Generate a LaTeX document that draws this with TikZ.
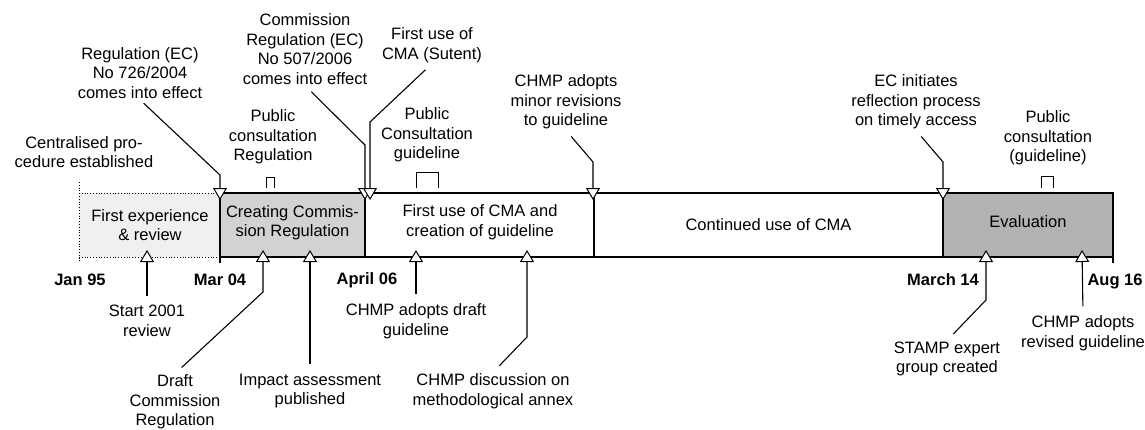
\documentclass[tikz,border=0pt]{standalone}
\usepackage{fontspec}
\setmainfont{Liberation Sans}
\usetikzlibrary{arrows.meta}

\tikzset{
  evt/.style={align=center, inner sep=1pt, font=\fontsize{16.5}{19.5}\selectfont},
  datelbl/.style={inner sep=1pt, font=\fontsize{16.5}{19.5}\selectfont\bfseries},
  phase/.style={draw, line width=1.2pt, minimum height=64pt, align=center, inner sep=0pt,
    font=\fontsize{16.5}{19.5}\selectfont},
  marker/.style={line width=1.1pt, -{Triangle[width=14pt, length=12pt, fill=white, line width=1pt]}},
  consult/.style={line width=1pt}
}

\begin{document}
\begin{tikzpicture}[x=1pt, y=-1pt]
    \useasboundingbox (0,0) rectangle (1145,429);

    \fill [gray!12] (79,193) rectangle (220,257);
    \draw [dotted, line width=0.8pt] (79,182) to (79,263);
    \draw [dotted, line width=0.8pt] (79,193) to (220,193) (79,257) to (220,257);
    \node [evt] (firstexp) at (150,225) {First experience\\\& review};

    \node [phase, fill=gray!35, minimum width=145pt] (creating) at (292.5,225) {};
    \node [evt] at (292.5,222.5) {Creating Commis-\\sion Regulation};
    \node [phase, fill=white, minimum width=229pt] (firstuse) at (479.5,225) {};
    \node [evt] at (480,222) {First use of CMA and\\creation of guideline};
    \node [phase, fill=white, minimum width=349pt] (continued) at (768.5,225) {Continued use of CMA};
    \node [phase, fill=gray!60, minimum width=170pt] (evaluation) at (1028,225) {};
    \node [evt] at (1028,222) {Evaluation};

    \draw [line width=1.2pt] (220,257) to (220,263);
    \draw [line width=1.2pt] (1113,257) to (1113,263);

    \node [datelbl] (jan95) at (80,280) {Jan 95};
    \node [datelbl] (mar04) at (220,280) {Mar 04};
    \node [datelbl] (apr06) at (367,280) {April 06};
    \node [datelbl] (mar14) at (943,280) {March 14};
    \node [datelbl] (aug16) at (1115,281) {Aug 16};

    % events above the bar
    \node [evt] (central) at (84,152) {Centralised pro-\\cedure established};
    \node [evt] (reg726) at (140,73) {Regulation (EC)\\No 726/2004\\comes into effect};
    \node [evt] (pubreg) at (273,137) {Public\\consultation\\Regulation};
    \node [evt] (reg507) at (305,49) {Commission\\Regulation (EC)\\No 507/2006\\comes into effect};
    \node [evt] (sutent) at (432,45) {First use of\\CMA (Sutent)};
    \node [evt] (pubguide) at (427,135) {Public\\Consultation\\guideline};
    \node [evt] (minor) at (566,102) {CHMP adopts\\minor revisions\\to guideline};
    \node [evt] (reflect) at (916,102) {EC initiates\\reflection process\\on timely access};
    \node [evt] (pubrev) at (1048,138) {Public\\consultation\\(guideline)};

    \draw [marker, shorten <=5pt] (reg726.south) to (220,175) to (220,200);
    \draw [marker, shorten <=9pt] (reg507.south) to (365,145) to (365,200);
    \draw [marker, shorten <=9pt] (sutent.south) to (370,122) to (370,200);
    \draw [marker, shorten <=8pt] (minor.south) to (593,162) to (593,200);
    \draw [marker, shorten <=8pt] (reflect.south) to (943,162) to (943,200);

    \draw [consult] (266,188) to (266,177) to (274,177) to (274,188);
    \draw [consult] (416,188) to (416,172) to (438,172) to (438,188);
    \draw [consult] (1041,188) to (1041,176) to (1053,176) to (1053,188);

    % events below the bar
    \node [evt] (start01) at (147,321) {Start 2001\\review};
    \node [evt] (draft) at (175,402) {Draft\\Commission\\Regulation};
    \node [evt] (impact) at (310,391) {Impact assessment\\published};
    \node [evt] (chmpdraft) at (416,321) {CHMP adopts draft\\guideline};
    \node [evt] (annex) at (493,391) {CHMP discussion on\\methodological annex};
    \node [evt] (stamp) at (947,359) {STAMP expert\\group created};
    \node [evt] (revised) at (1083,333) {CHMP adopts\\revised guideline};

    \draw [marker, shorten <=8pt] (start01.north) to (147,250);
    \draw [marker, shorten <=9pt] (draft.north) to (263,292) to (263,250);
    \draw [marker, shorten <=9pt] (impact.north) to (310,250);
    \draw [marker, shorten <=8pt] (chmpdraft.north) to (416,250);
    \draw [marker, shorten <=9pt] (annex.north) to (527,337) to (527,250);
    \draw [marker, shorten <=9pt] (stamp.north) to (986,300) to (986,250);
    \draw [marker, shorten <=8pt] (revised.north) to (1082,250);
\end{tikzpicture}
\end{document}
